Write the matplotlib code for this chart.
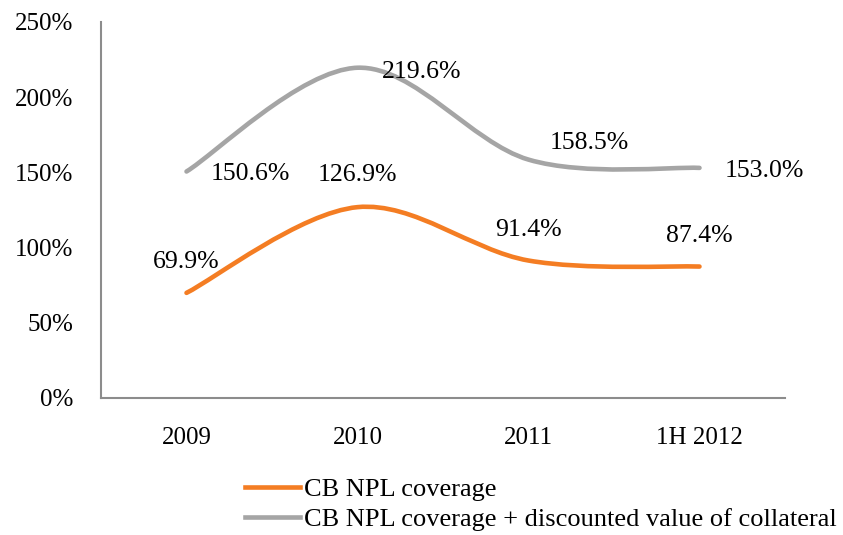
import numpy as np
import matplotlib.pyplot as plt
from matplotlib.path import Path
from matplotlib.patches import PathPatch
from matplotlib.lines import Line2D
from matplotlib.ticker import FuncFormatter

categories = ['2009', '2010', '2011', '1H 2012']
npl_coverage = [69.9, 126.9, 91.4, 87.4]
npl_collateral = [150.6, 219.6, 158.5, 153.0]

# label offsets in points (dx, dy) relative to the data point
npl_offsets = [(0, 22), (0, 23), (0, 22), (0, 22)]
coll_offsets = [(46, -2), (46, -3), (44, 12), (47, -2)]

ORANGE = '#F47D23'
GRAY = '#A5A5A5'
AXIS = '#8C8C8C'

plt.rcParams['font.family'] = 'Liberation Serif'


def smooth_path(xs, ys):
    """Catmull-Rom style bezier path, like Excel's smoothed line."""
    pts = np.column_stack([xs, ys]).astype(float)
    n = len(pts)
    verts = [pts[0]]
    codes = [Path.MOVETO]
    for i in range(n - 1):
        p0 = pts[i - 1] if i > 0 else pts[i]
        p1 = pts[i]
        p2 = pts[i + 1]
        p3 = pts[i + 2] if i + 2 < n else pts[i + 1]
        c1 = p1 + (p2 - p0) / 6.0
        c2 = p2 - (p3 - p1) / 6.0
        verts += [c1, c2, p2]
        codes += [Path.CURVE4] * 3
    return Path(verts, codes)


fig = plt.figure(figsize=(8.43, 5.35), dpi=100)
ax = fig.add_axes([101 / 843, 137 / 535, 684 / 843, 376 / 535])

x = np.arange(len(categories))
for vals, color in [(npl_collateral, GRAY), (npl_coverage, ORANGE)]:
    patch = PathPatch(smooth_path(x, vals), facecolor='none', edgecolor=color,
                      linewidth=3.3, capstyle='round', joinstyle='round')
    ax.add_patch(patch)

for vals, offs in [(npl_coverage, npl_offsets), (npl_collateral, coll_offsets)]:
    for xi, v, off in zip(x, vals, offs):
        ax.annotate(f'{v:.1f}%', (xi, v), xytext=off, textcoords='offset points',
                    ha='center', va='center', fontsize=18.5, color='black')

ax.set_xlim(-0.5, len(categories) - 0.5)
ax.set_ylim(0, 250)
ax.set_yticks(np.arange(0, 251, 50))
ax.yaxis.set_major_formatter(FuncFormatter(lambda v, p: f'{v:.0f}%'))
ax.set_xticks(x)
ax.set_xticklabels(categories)
ax.tick_params(axis='y', length=0, pad=20, labelsize=18)
ax.tick_params(axis='x', length=0, pad=21, labelsize=18)

for side in ['top', 'right']:
    ax.spines[side].set_visible(False)
for side in ['left', 'bottom']:
    ax.spines[side].set_color(AXIS)
    ax.spines[side].set_linewidth(1.5)

handles = [Line2D([], [], color=ORANGE, linewidth=3.3),
           Line2D([], [], color=GRAY, linewidth=3.3)]
labels = ['CB NPL coverage', 'CB NPL coverage + discounted value of collateral']
fig.legend(handles, labels, loc='center left', bbox_to_anchor=(245 / 843, 30.5 / 535),
           frameon=False, fontsize=19, handlelength=2.1, handletextpad=0.12,
           labelspacing=0.25, borderpad=0, borderaxespad=0)

plt.savefig('out.png', dpi=100)
